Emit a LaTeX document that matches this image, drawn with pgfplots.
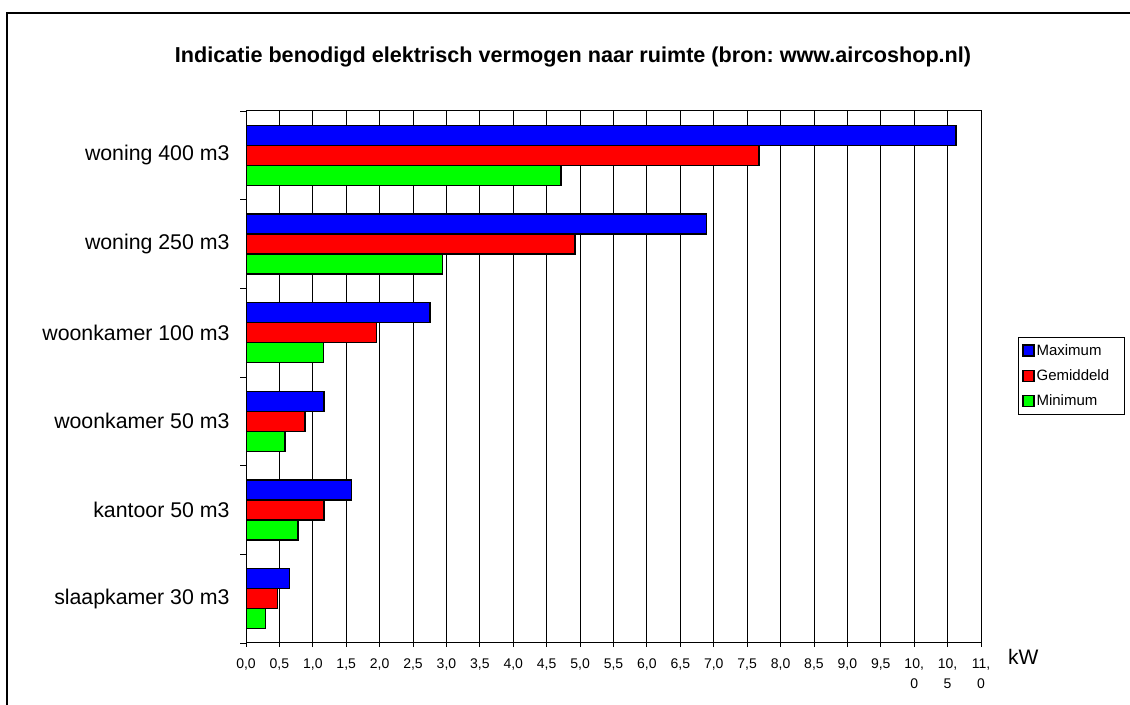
\documentclass[border=0pt]{standalone}
\usepackage{fontspec}
\setmainfont{Liberation Sans}
\usepackage{pgfplots}
\pgfplotsset{compat=1.18}

\definecolor{maxblue}{RGB}{0,0,255}
\definecolor{avgred}{RGB}{255,0,0}
\definecolor{mingreen}{RGB}{0,255,0}

% Required electrical power per room (kW): y = room index, x = power
\pgfplotstableread{
y  maxi   avg   mini
0  0.65   0.47  0.29
1  1.58   1.17  0.78
2  1.17   0.88  0.58
3  2.75   1.95  1.16
4  6.89   4.92  2.94
5  10.63  7.68  4.71
}\powertable

\begin{document}
\frenchspacing
\begin{tikzpicture}[x=1bp,y=1bp]
\useasboundingbox (0,0) rectangle (1130,705);
% frame
\draw[line width=2bp] (7,-5) -- (7,692) -- (1140,692);
% title
\node[font=\fontsize{21.6bp}{25bp}\selectfont\bfseries] at (573,648)
  {Indicatie benodigd elektrisch vermogen naar ruimte (bron: www.aircoshop.nl)};
\begin{axis}[
  at={(246bp,62bp)}, anchor=south west,
  scale only axis, width=735bp, height=532bp,
  xmin=0, xmax=11, ymin=-0.5, ymax=5.5,
  xbar, bar width=20bp,
  axis line style={line width=1bp},
  xmajorgrids, grid style={black, line width=0.9bp},
  xtick={0,0.5,...,11},
  xticklabels={{0,0},{0,5},{1,0},{1,5},{2,0},{2,5},{3,0},{3,5},{4,0},{4,5},
    {5,0},{5,5},{6,0},{6,5},{7,0},{7,5},{8,0},{8,5},{9,0},{9,5},
    {10,\\0},{10,\\5},{11,\\0}},
  xticklabel style={font=\fontsize{14bp}{20bp}\selectfont, align=center, yshift=-8bp},
  x tick style={black, line width=0.9bp},
  ytick={0,1,2,3,4,5},
  yticklabels={slaapkamer 30 m3, kantoor 50 m3, woonkamer 50 m3,
    woonkamer 100 m3, woning 250 m3, woning 400 m3},
  yticklabel style={font=\fontsize{21.3bp}{25bp}\selectfont, xshift=-9bp},
  major y tick style={draw=none},
  minor ytick={-0.5,0.5,...,5.5},
  minor y tick style={black, line width=0.9bp},
  minor tick length=6bp, major tick length=4bp,
  tick align=outside, xtick pos=bottom, ytick pos=left,
  legend image code/.code={\draw[#1,draw=black,line width=1.2bp] (0bp,-5.5bp) rectangle (11bp,5.5bp);},
  legend style={at={(axis description cs:1.0503,0.5752)}, anchor=north west,
    draw=black, line width=0.8bp, font=\fontsize{15bp}{18bp}\selectfont,
    inner xsep=4bp, inner ysep=5bp, row sep=9bp,
    nodes={inner sep=2bp, anchor=west}},
  legend cell align=left,
]
\addplot[fill=maxblue, draw=black, line width=1.6bp, bar shift=20bp] table[x=maxi, y=y] {\powertable};
\addplot[fill=avgred, draw=black, line width=1.6bp, bar shift=0bp] table[x=avg, y=y] {\powertable};
\addplot[fill=mingreen, draw=black, line width=1.6bp, bar shift=-20bp] table[x=mini, y=y] {\powertable};
\legend{Maximum, Gemiddeld\hspace*{9bp}, Minimum}
\end{axis}
\node[anchor=west, font=\fontsize{21bp}{25bp}\selectfont, inner sep=0pt] at (1008,48) {kW};
\end{tikzpicture}
\end{document}
